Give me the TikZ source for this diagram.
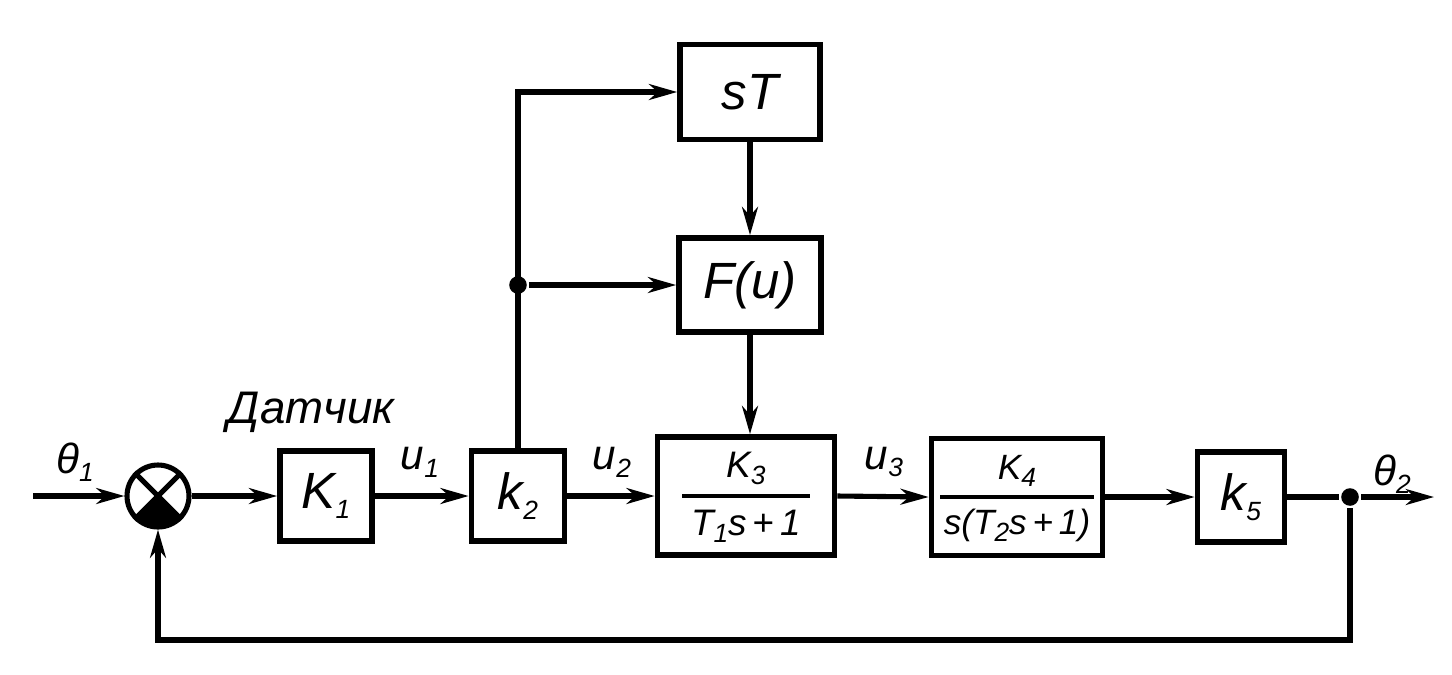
\documentclass[tikz,border=0pt]{standalone}
\usepackage{fontspec}
\setmainfont{Liberation Sans}
\usetikzlibrary{arrows.meta,calc}
\newcommand{\lbl}[2]{\textit{#1}\raisebox{-0.35ex}{\fontsize{15}{17}\selectfont\textit{#2}}}
\newcommand{\frc}[3]{\setlength{\arrayrulewidth}{2.6pt}\setlength{\tabcolsep}{#3}\renewcommand{\arraystretch}{1.25}\begin{tabular}{c}#1\\\hline #2\end{tabular}}
\begin{document}
\begin{tikzpicture}[x=0.02cm,y=-0.02cm, line width=2.9pt,
  blk/.style={draw, line width=3.2pt, inner sep=0pt, font=\fontsize{29}{32}\selectfont\itshape},
  fblk/.style={draw, line width=3.2pt, inner sep=0pt, font=\fontsize{21}{24}\selectfont\itshape},
  sig/.style={-{Stealth[length=16pt,width=9pt,inset=5pt]}},
  lab/.style={font=\fontsize{24}{28}\selectfont\itshape, inner sep=0pt},
  dot/.style={circle, fill, inner sep=0pt, minimum size=10pt}]
\useasboundingbox (0,0) rectangle (1452,674);

% summing junction
\node[circle, draw, minimum size=1.24cm, inner sep=0pt] (sum) at (158,496) {};
\begin{scope}
  \clip (sum.center) circle (0.62cm);
  \fill (sum.center) -- ++(-50,50) -- ++(100,0) -- cycle;
\end{scope}
\draw (sum.45) -- (sum.-135);
\draw (sum.135) -- (sum.-45);

% blocks
\node[blk, minimum width=1.84cm, minimum height=1.8cm] (k1) at (326,496) {\lbl{K}{1}};
\node[blk, minimum width=1.86cm, minimum height=1.8cm] (k2) at (518,496) {\lbl{k}{2}};
\node[fblk, minimum width=3.54cm, minimum height=2.36cm] (k3) at (746,496) {\frc{\lbl{K}{3}}{\lbl{T}{1}\textit{s}\,+\,\textit{1}}{5pt}};
\node[fblk, minimum width=3.42cm, minimum height=2.34cm, font=\fontsize{20}{23}\selectfont\itshape] (k4) at (1017,497) {\frc{\lbl{K}{4}}{\textit{s}(\lbl{T}{2}\textit{s}\,+\,\textit{1})}{2pt}};
\node[blk, minimum width=1.74cm, minimum height=1.8cm] (k5) at (1241,497) {\lbl{k}{5}};
\node[blk, minimum width=2.8cm, minimum height=1.9cm] (st) at (750,92) {sT};
\node[blk, minimum width=2.84cm, minimum height=1.88cm] (fu) at (750,285) {F(u)};

% coordinates
\coordinate (in) at (33,496);
\node[dot] (jo) at (1350,497) {};
\coordinate (out) at (1434,497);
\coordinate (fb) at (0,640);
\node[dot] (br) at (k2.north |- fu.west) {};

% connectors
\draw[sig] (in) -- (sum.west);
\draw[sig] (sum.east) -- (k1.west);
\draw[sig] (k1.east) -- (k2.west);
\draw[sig] (k2.east) -- (k3.west);
\draw[sig] (k3.east) -- (k4.west);
\draw[sig] (k4.east) -- (k5.west);
\draw (k5.east) -- (jo);
\draw[sig] (jo) -- (out);
\draw[sig] (jo) -- (jo |- fb) -| (sum.south);
\draw[sig] (k2.north) |- (st.west);
\draw[sig] (br) -- (fu.west);
\draw[sig] (st.south) -- (fu.north);
\draw[sig] (fu.south) -- (fu.south |- k3.north);

% labels
\node[lab] (l1) at (75,462) {\lbl{θ}{1}};
\node[lab] (l2) at (1392,474) {\lbl{θ}{2}};
\node[lab] (lu1) at (420,462) {\lbl{u}{1}};
\node[lab] (lu2) at (612,462) {\lbl{u}{2}};
\node[lab] (lu3) at (884,462) {\lbl{u}{3}};
\node[lab, font=\fontsize{26}{30}\selectfont\itshape] (ld) at (311,412) {Датчик};
\end{tikzpicture}
\end{document}
